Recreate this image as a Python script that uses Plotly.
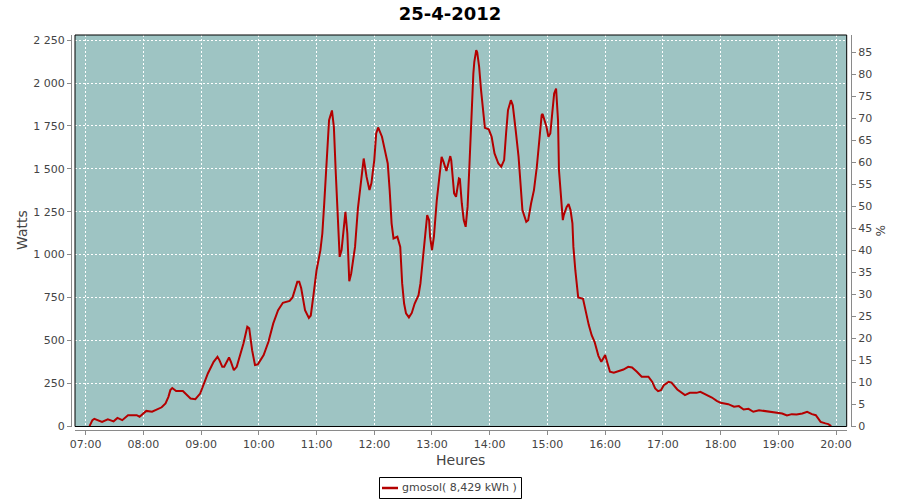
import plotly.graph_objects as go

# ---- data (time of day, watts) ----
times = [
    "07:04", "07:07", "07:09", "07:13", "07:17", "07:23", "07:29", "07:33", "07:38", "07:44",
    "07:53", "07:56", "08:03", "08:09", "08:15", "08:19", "08:23", "08:26", "08:28", "08:30",
    "08:34", "08:41", "08:49", "08:54", "08:59", "09:03", "09:07", "09:13", "09:17", "09:19",
    "09:22", "09:24", "09:29", "09:31", "09:34", "09:37", "09:41", "09:44", "09:48", "09:50",
    "09:53", "09:56", "09:59", "10:05", "10:10", "10:15", "10:20", "10:25", "10:32", "10:35",
    "10:40", "10:42", "10:44", "10:48", "10:52", "10:54", "10:57", "11:00", "11:04", "11:06",
    "11:08", "11:11", "11:13", "11:16", "11:18", "11:20", "11:23", "11:24", "11:26", "11:30",
    "11:32", "11:34", "11:36", "11:40", "11:43", "11:47", "11:49", "11:52", "11:55", "11:57",
    "12:00", "12:02", "12:04", "12:08", "12:11", "12:14", "12:16", "12:18", "12:20", "12:24",
    "12:27", "12:29", "12:31", "12:33", "12:36", "12:39", "12:42", "12:46", "12:48", "12:50",
    "12:53", "12:55", "12:57", "12:58", "13:00", "13:02", "13:05", "13:08", "13:10", "13:12",
    "13:15", "13:19", "13:20", "13:23", "13:25", "13:28", "13:29", "13:31", "13:33", "13:35",
    "13:37", "13:39", "13:41", "13:43", "13:44", "13:46", "13:47", "13:49", "13:51", "13:53",
    "13:55", "13:59", "14:02", "14:05", "14:09", "14:12", "14:15", "14:17", "14:19", "14:22",
    "14:24", "14:27", "14:30", "14:32", "14:34", "14:38", "14:40", "14:43", "14:46", "14:49",
    "14:52", "14:54", "14:55", "14:59", "15:01", "15:03", "15:05", "15:07", "15:09", "15:11",
    "15:12", "15:14", "15:16", "15:17", "15:20", "15:22", "15:24", "15:26", "15:27", "15:29",
    "15:31", "15:32", "15:37", "15:39", "15:43", "15:46", "15:49", "15:53", "15:56", "15:58",
    "16:00", "16:02", "16:05", "16:09", "16:14", "16:19", "16:24", "16:28", "16:33", "16:38",
    "16:45", "16:49", "16:52", "16:55", "16:58", "17:01", "17:06", "17:09", "17:15", "17:20",
    "17:23", "17:28", "17:35", "17:39", "17:44", "17:47", "17:51", "17:56", "18:00", "18:08",
    "18:14", "18:19", "18:24", "18:29", "18:34", "18:40", "18:45", "18:50", "18:59", "19:04",
    "19:09", "19:14", "19:19", "19:25", "19:30", "19:35", "19:39", "19:44", "19:49", "19:52",
    "19:55",
]
watts = [
    0, 35, 43, 35, 25, 40, 28, 48, 35, 64,
    64, 55, 89, 84, 101, 110, 132, 171, 210, 222,
    205, 205, 161, 157, 190, 243, 307, 375, 404, 385,
    346, 346, 400, 375, 326, 346, 424, 482, 579, 570,
    443, 356, 360, 414, 492, 599, 676, 719, 730, 750,
    841, 841, 805, 676, 631, 645, 773, 909, 1026, 1123,
    1300, 1628, 1784, 1840, 1745, 1473, 1162, 987, 1026, 1249,
    1123, 845, 890, 1045, 1270, 1492, 1560, 1453, 1376, 1415,
    1551, 1706, 1741, 1687, 1599, 1531, 1376, 1182, 1094, 1104,
    1045, 832, 715, 657, 634, 660, 715, 764, 832, 948,
    1143, 1230, 1200, 1104, 1026, 1104, 1318, 1492, 1570, 1540,
    1487, 1574, 1550, 1357, 1337, 1444, 1440, 1298, 1201, 1162,
    1278, 1531, 1823, 2056, 2124, 2192, 2180, 2095, 1959, 1823,
    1739, 1730, 1687, 1590, 1531, 1512, 1551, 1706, 1842, 1900,
    1870, 1726, 1570, 1415, 1259, 1191, 1200, 1298, 1376, 1512,
    1726, 1813, 1820, 1745, 1687, 1706, 1823, 1939, 1968, 1784,
    1492, 1357, 1201, 1230, 1278, 1294, 1260, 1182, 1045, 909,
    793, 750, 742, 690, 589, 530, 492, 410, 375, 395,
    414, 375, 317, 311, 322, 330, 346, 342, 317, 288,
    288, 258, 220, 204, 210, 239, 258, 254, 214, 190,
    181, 194, 194, 200, 187, 175, 167, 148, 136, 128,
    113, 117, 97, 101, 84, 93, 89, 84, 80, 74,
    62, 70, 68, 74, 84, 70, 64, 25, 16, 12,
    0,
]
day = "2012-04-25"
series_name = "gmosol( 8,429 kWh )"
title_text = "25-4-2012"
x_range = ["2012-04-25 06:48:53", "2012-04-25 20:11:07"]
y_range = [-2, 2280]
y2_range = [-0.1, 88.9]

x_vals = [f"{day} {t}" for t in times]

TXT = "#444444"
AX = "#8a8a8a"
LINE = "#B40000"
FONT = "DejaVu Sans"

fig = go.Figure()
fig.add_trace(go.Scatter(
    x=x_vals, y=watts, mode="lines", name=series_name,
    line=dict(color=LINE, width=2), hoverinfo="x+y", showlegend=False,
))
# helper trace so the right-hand % axis is drawn
fig.add_trace(go.Scatter(
    x=x_vals[:1], y=[None], yaxis="y2", mode="lines",
    showlegend=False, hoverinfo="skip",
))

W = 780.0
H = 395.0


def px_x(x):
    return (x - 71) / W


def px_y(y):
    return (430 - y) / H


fig.update_layout(
    width=900, height=500,
    margin=dict(l=71, r=49, t=35, b=70, pad=0, autoexpand=False),
    paper_bgcolor="white",
    plot_bgcolor="#9EC4C3",
    separators=", ",
    font=dict(family=FONT, size=11, color=TXT),
    title=dict(text=title_text, x=0.5, xanchor="center", y=1 - 14 / 500, yanchor="middle",
               xref="container", yref="container",
               font=dict(family=FONT, size=18, color="black", weight="bold")),
    showlegend=False,
    xaxis=dict(
        type="date", range=x_range, domain=[4 / W, 775.7 / W],
        anchor="free", position=0, automargin=False,
        dtick=3600000, tick0="2012-04-25 07:00", tickformat="%H:%M",
        showgrid=True, gridcolor="white", gridwidth=1, griddash="2px,2px",
        showline=True, linecolor=AX, linewidth=1,
        ticks="outside", ticklen=4, tickcolor=AX,
        tickfont=dict(family=FONT, size=11, color=TXT),
        zeroline=False,
    ),
    yaxis=dict(
        range=y_range, domain=[3.5 / H, 1],
        anchor="free", position=0, automargin=False,
        dtick=250, tick0=0, tickformat=",d",
        showgrid=True, gridcolor="white", gridwidth=1, griddash="2px,2px",
        showline=True, linecolor=AX, linewidth=1,
        ticks="outside", ticklen=4, tickcolor=AX,
        tickfont=dict(family=FONT, size=11, color=TXT),
        zeroline=False,
    ),
    yaxis2=dict(
        range=y2_range, overlaying="y", side="right",
        anchor="free", position=1, automargin=False,
        dtick=5, tick0=0,
        showgrid=False, showline=True, linecolor=AX, linewidth=1,
        ticks="outside", ticklen=4, tickcolor=AX,
        tickfont=dict(family=FONT, size=11, color=TXT),
        zeroline=False,
    ),
)

# black plot border
fig.add_shape(type="rect", xref="x domain", yref="y domain", x0=0, x1=1, y0=0, y1=1,
              line=dict(color="black", width=1), fillcolor="rgba(0,0,0,0)", layer="above")

# legend box (JFreeChart style)
fig.add_shape(type="rect", xref="paper", yref="paper",
              x0=px_x(379.5), x1=px_x(521.5), y0=px_y(477.5), y1=px_y(498.5),
              line=dict(color="black", width=1), fillcolor="white")
fig.add_shape(type="line", xref="paper", yref="paper",
              x0=px_x(382), x1=px_x(398), y0=px_y(488), y1=px_y(488),
              line=dict(color=LINE, width=2.5))
fig.add_annotation(text=series_name, xref="paper", yref="paper", x=px_x(399.5), y=px_y(488),
                   showarrow=False, font=dict(family=FONT, size=11, color=TXT),
                   xanchor="left", yanchor="middle")

fig.add_annotation(text="Watts", xref="paper", yref="paper", x=px_x(21.5), y=px_y(230.5),
                   showarrow=False, textangle=-90, font=dict(family=FONT, size=14, color=TXT),
                   xanchor="center", yanchor="middle")
fig.add_annotation(text="Heures", xref="paper", yref="paper", x=px_x(460), y=px_y(460),
                   showarrow=False, font=dict(family=FONT, size=14, color=TXT),
                   xanchor="center", yanchor="middle")
fig.add_annotation(text="%", xref="paper", yref="paper", x=px_x(880), y=px_y(230),
                   showarrow=False, textangle=90, font=dict(family=FONT, size=12, color=TXT),
                   xanchor="center", yanchor="middle")

fig.write_html("out.html", config={"displayModeBar": False},
               post_script="document.body.style.margin='0';")
